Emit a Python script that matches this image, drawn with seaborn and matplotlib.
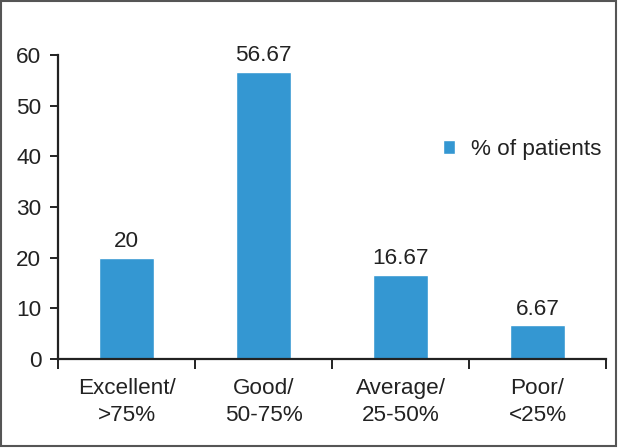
import matplotlib
matplotlib.use("Agg")
import matplotlib.pyplot as plt
from matplotlib.patches import Rectangle
import seaborn as sns
import pandas as pd

categories = ["Excellent/\n>75%", "Good/\n50-75%", "Average/\n25-50%", "Poor/\n<25%"]
values = [20, 56.67, 16.67, 6.67]
labels = ["20", "56.67", "16.67", "6.67"]
series_name = "% of patients"
yticks = [0, 10, 20, 30, 40, 50, 60]

sns.set_style("white")
plt.rcParams['font.family'] = ['Liberation Sans', 'DejaVu Sans']

df = pd.DataFrame({"cat": categories, "val": values, "series": series_name})

fs = 16.2
fig = plt.figure(figsize=(6.19, 4.48), dpi=100)
ax = fig.add_axes([58/619, 89/448, (606-58)/619, (359-55)/448])
color = "#3497d2"
sns.barplot(data=df, x="cat", y="val", hue="series", palette=[color], width=0.4,
            ax=ax, saturation=1, legend=True)

ax.set_ylim(0, 60)
ax.set_xlim(-0.5, 3.5)
ax.set_yticks(yticks)
ax.set_xlabel("")
ax.set_ylabel("")
for s in ["top", "right"]:
    ax.spines[s].set_visible(False)
for s in ["left", "bottom"]:
    ax.spines[s].set_color("#222222")
    ax.spines[s].set_linewidth(1.6)

ax.tick_params(axis="y", which="major", direction="out", length=6, width=1.4,
               color="#222222", labelsize=fs, labelcolor="#222222", left=True, pad=6)
ax.tick_params(axis="x", which="major", length=0, labelsize=fs, labelcolor="#222222", pad=14)
ax.set_xticks([-0.5, 0.5, 1.5, 2.5, 3.5], minor=True)
ax.tick_params(axis="x", which="minor", direction="out", length=7, width=1.4, color="#222222", bottom=True)
for t in ax.get_xticklabels():
    t.set_linespacing(1.32)

for i, (v, lab) in enumerate(zip(values, labels)):
    ax.annotate(lab, (i, v), xytext=(0, 4), textcoords="offset points",
                ha="center", va="bottom", fontsize=fs, color="#222222")

leg = ax.legend(loc="upper left", bbox_to_anchor=(0.665, 0.79), frameon=False,
                fontsize=fs, handlelength=0.55, handleheight=0.55, handletextpad=0.7,
                labelcolor="#222222")

fig.patches.append(Rectangle((0.002, 0.004), 0.993, 0.993, transform=fig.transFigure,
                             fill=False, edgecolor="#555555", linewidth=1.5))

fig.savefig("out.png", dpi=100)
